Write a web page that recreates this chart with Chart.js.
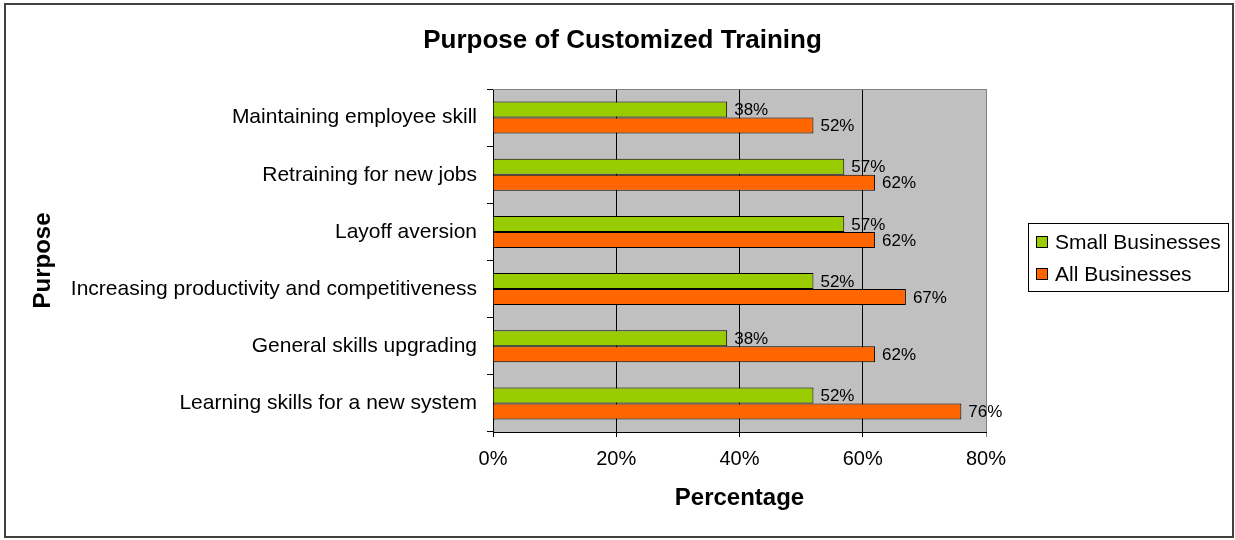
<!DOCTYPE html>
<html>
<head>
<meta charset="utf-8">
<title>Purpose of Customized Training</title>
<script src="https://cdn.jsdelivr.net/npm/chart.js@4/dist/chart.umd.min.js"></script>
<style>
  html, body { margin: 0; padding: 0; background: #fff; }
  canvas { display: block; }
</style>
</head>
<body>
<canvas id="trainingChart" width="1235" height="540"></canvas>
<script>
// Survey data (percent of respondents)
const purposes = [
  'Maintaining employee skill',
  'Retraining for new jobs',
  'Layoff aversion',
  'Increasing productivity and competitiveness',
  'General skills upgrading',
  'Learning skills for a new system'
];
const smallBusinesses = [38, 57, 57, 52, 38, 52];
const allBusinesses = [52, 62, 62, 67, 62, 76];
const percentTicks = [0, 20, 40, 60, 80];
const chartTitle = 'Purpose of Customized Training';

const FONT = "'Liberation Sans', Arial, sans-serif";

// Gray plot area with a thin gray frame on top/right
const plotBackground = {
  id: 'plotBackground',
  beforeDraw(chart) {
    const { ctx, chartArea: a } = chart;
    ctx.save();
    ctx.fillStyle = '#c0c0c0';
    ctx.fillRect(a.left, a.top, a.right - a.left, a.bottom - a.top);
    ctx.restore();
  },
  beforeDatasetsDraw(chart) {
    const { ctx, chartArea: a } = chart;
    ctx.save();
    ctx.strokeStyle = '#808080';
    ctx.lineWidth = 1;
    ctx.beginPath();
    ctx.moveTo(a.left, a.top + 0.5);
    ctx.lineTo(a.right + 0.5, a.top + 0.5);
    ctx.lineTo(a.right + 0.5, a.bottom);
    ctx.stroke();
    ctx.restore();
  }
};

// Value labels at the end of each bar
const barValues = {
  id: 'barValues',
  afterDatasetsDraw(chart) {
    const { ctx } = chart;
    ctx.save();
    ctx.font = '17px ' + FONT;
    ctx.fillStyle = '#000';
    ctx.textAlign = 'left';
    ctx.textBaseline = 'middle';
    chart.data.datasets.forEach((ds, i) => {
      chart.getDatasetMeta(i).data.forEach((bar, j) => {
        ctx.fillText(ds.data[j] + '%', bar.x + 7, bar.y + 1);
      });
    });
    ctx.restore();
  }
};

// Title across the whole canvas, boxed legend on the right, outer frame
const chartDecor = {
  id: 'chartDecor',
  afterDraw(chart) {
    const { ctx } = chart;
    ctx.save();
    ctx.fillStyle = '#000';
    ctx.font = 'bold 26px ' + FONT;
    ctx.textAlign = 'center';
    ctx.textBaseline = 'middle';
    ctx.fillText(chartTitle, chart.width / 2 + 5, 41);

    const left = 1028, top = 223, width = 200, height = 68;
    ctx.strokeStyle = '#000';
    ctx.lineWidth = 1;
    ctx.strokeRect(left + 0.5, top + 0.5, width, height);

    ctx.font = '21px ' + FONT;
    ctx.textAlign = 'left';
    chart.data.datasets.forEach((ds, i) => {
      const y = top + 19 + i * 32;
      ctx.fillStyle = ds.backgroundColor;
      ctx.fillRect(left + 8, y - 6, 12, 12);
      ctx.strokeStyle = '#000';
      ctx.strokeRect(left + 8.5, y - 5.5, 11, 11);
      ctx.fillStyle = '#000';
      ctx.fillText(ds.label, left + 27, y + 1);
    });

    ctx.strokeStyle = '#404040';
    ctx.lineWidth = 2;
    ctx.strokeRect(5, 4, 1228, 533);
    ctx.restore();
  }
};

new Chart(document.getElementById('trainingChart'), {
  type: 'bar',
  data: {
    labels: purposes,
    datasets: [
      {
        label: 'Small Businesses',
        data: smallBusinesses,
        backgroundColor: '#99cc00',
        borderColor: '#000',
        borderWidth: 1
      },
      {
        label: 'All Businesses',
        data: allBusinesses,
        backgroundColor: '#ff6600',
        borderColor: '#000',
        borderWidth: 1
      }
    ]
  },
  options: {
    indexAxis: 'y',
    responsive: false,
    animation: false,
    devicePixelRatio: 1,
    datasets: {
      bar: { categoryPercentage: 0.56, barPercentage: 1 }
    },
    layout: {
      padding: { left: 10, right: 249, top: 89, bottom: 0 }
    },
    plugins: {
      legend: { display: false },
      tooltip: { enabled: false },
      title: { display: false }
    },
    scales: {
      x: {
        type: 'linear',
        position: 'bottom',
        min: percentTicks[0],
        max: percentTicks[percentTicks.length - 1],
        afterBuildTicks: scale => {
          scale.ticks = percentTicks.map(v => ({ value: v }));
        },
        afterFit: scale => { scale.height = 108; },
        ticks: {
          color: '#000',
          font: { family: FONT, size: 20 },
          padding: 10,
          callback: v => v + '%'
        },
        grid: {
          color: ctx => (ctx.tick && ctx.tick.value === 80 ? '#808080' : '#000'),
          lineWidth: 1,
          drawTicks: true,
          tickLength: 5
        },
        border: { display: true, color: '#000' },
        title: {
          display: true,
          text: 'Percentage',
          color: '#000',
          font: { family: FONT, size: 24, weight: 'bold' },
          padding: { top: 0, bottom: 27 }
        }
      },
      y: {
        type: 'category',
        afterFit: scale => { scale.width = 483; },
        ticks: {
          color: '#000',
          font: { family: FONT, size: 21 },
          padding: 10,
          autoSkip: false
        },
        grid: {
          offset: true,
          drawOnChartArea: false,
          drawTicks: true,
          tickLength: 6,
          color: '#000'
        },
        border: { display: true, color: '#000' },
        title: {
          display: true,
          text: 'Purpose',
          color: '#000',
          font: { family: FONT, size: 24, weight: 'bold' },
          padding: { top: 19, bottom: 0 }
        }
      }
    }
  },
  plugins: [plotBackground, barValues, chartDecor]
});
</script>
</body>
</html>
